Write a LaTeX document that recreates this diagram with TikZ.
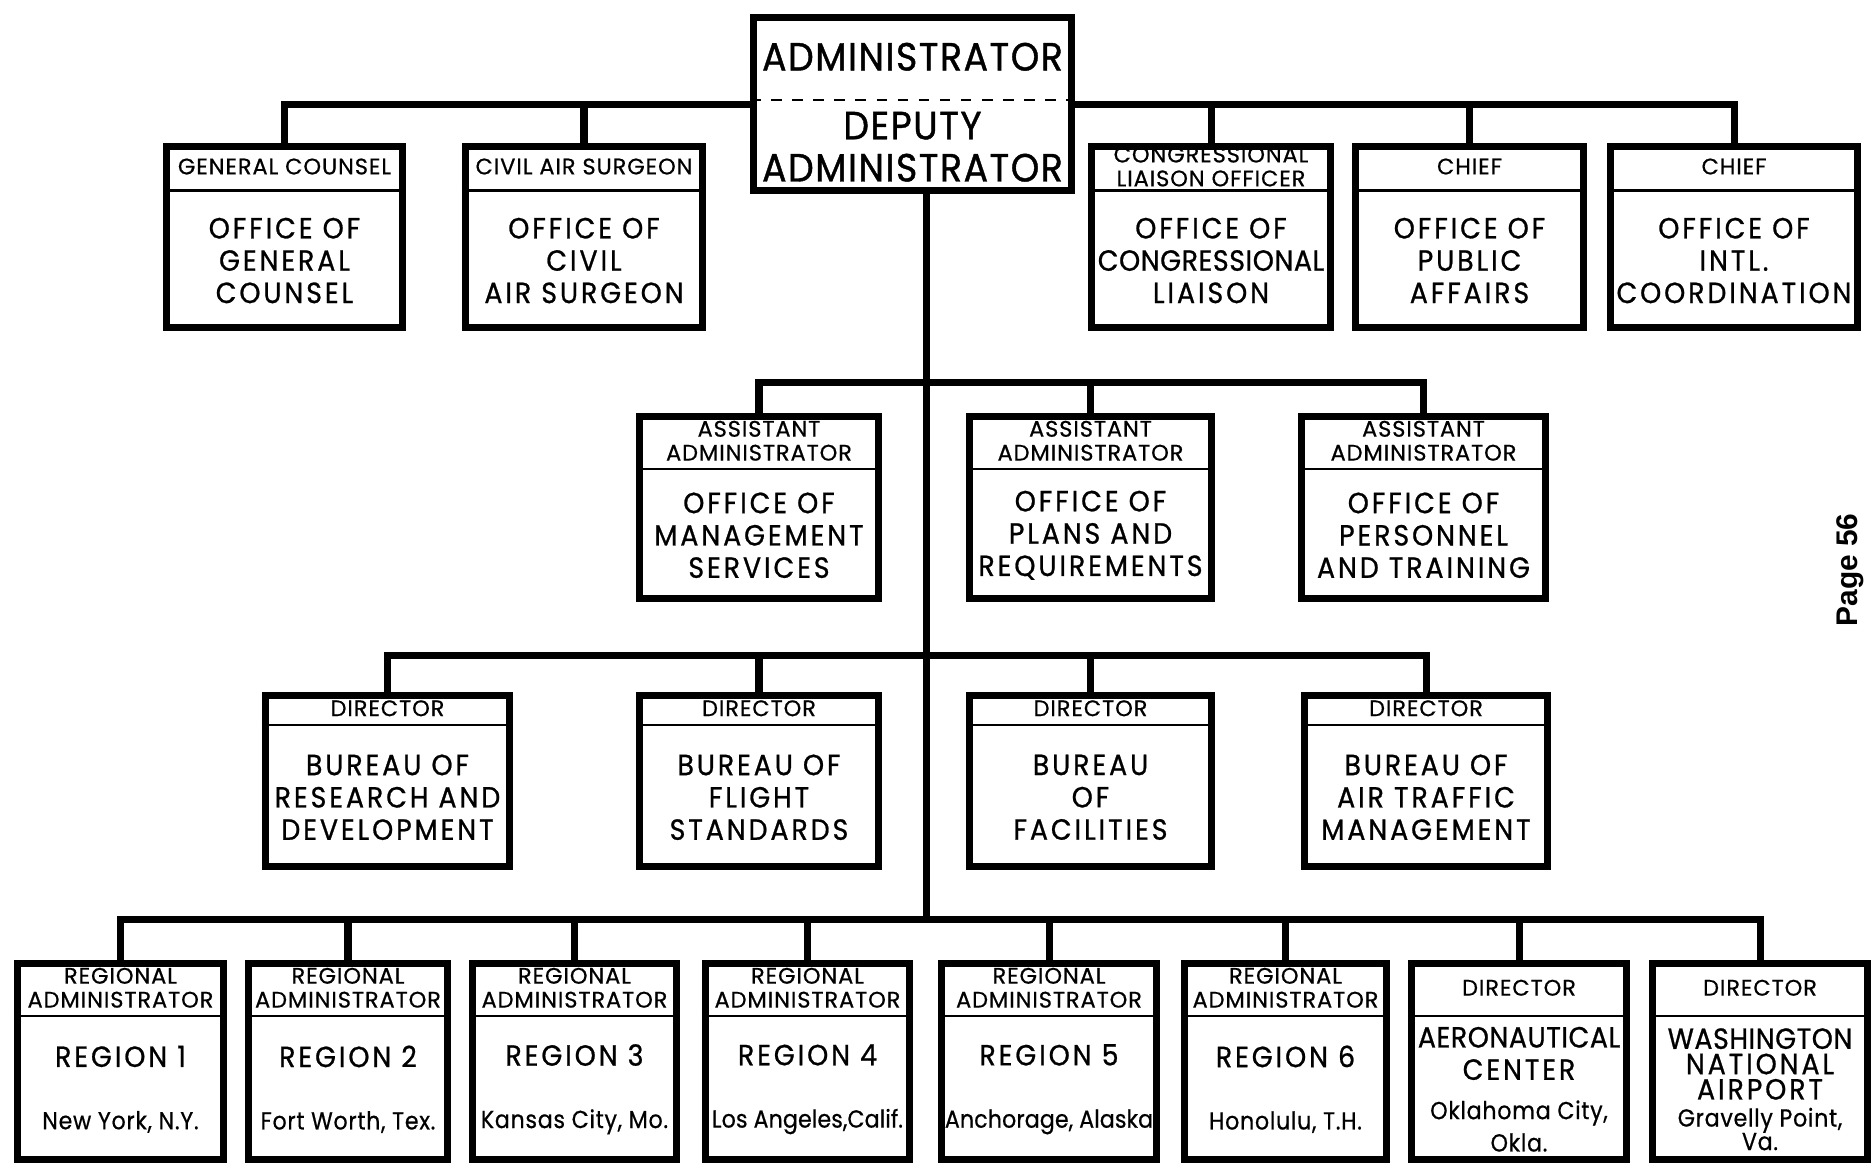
\documentclass[tikz,border=0pt]{standalone}
\usepackage{fontspec}
\usepackage{tikz}
\usetikzlibrary{positioning,calc,backgrounds}

\newfontfamily\chartfont[FakeStretch=0.92, LetterSpace=10, FakeBold=0.8]{Poppins}
\newfontfamily\headfamily[LetterSpace=4, FakeBold=0.6]{Poppins}
\newfontfamily\cityfamily[FakeStretch=0.9, LetterSpace=3, FakeBold=0.6]{Poppins}
\newfontfamily\topfamily[FakeStretch=0.92, LetterSpace=4, FakeBold=1]{Poppins}
\newfontfamily\labelfont{Liberation Sans}
\newcommand{\headfont}{\headfamily\fontsize{6.4}{6.8}\selectfont}
\newcommand{\bodyfont}{\chartfont\fontsize{8.3}{9.2}\selectfont}
\newcommand{\topfont}{\topfamily\fontsize{11.2}{12}\selectfont}
\newcommand{\cityfont}{\cityfamily\fontsize{7}{7.8}\selectfont}
\newcommand{\snug}[1]{{\addfontfeature{LetterSpace=2}#1}}
\newcommand{\squeeze}[1]{{\addfontfeature{LetterSpace=0.5}#1}}

\tikzset{
  unitbox/.style={draw, line width=2pt, fill=white, inner sep=0pt, anchor=north},
  headline/.style={line width=0.6pt},
  headtext/.style={font=\headfont, align=center, inner sep=0pt},
  bodytext/.style={font=\bodyfont, align=center, inner sep=0pt},
  toptext/.style={font=\topfont, align=center, inner sep=0pt},
  link/.style={line width=2pt, line cap=rect},
}

% name, centre x, top y, width, height, header depth, header, body
\newcommand{\orgunit}[8]{%
  \node[unitbox, minimum width=#4cm, minimum height=#5cm] (#1) at (#2,#3) {};
  \coordinate (#1-l) at ($(#1.north west)+(0,-#6)$);
  \coordinate (#1-r) at ($(#1.north east)+(0,-#6)$);
  \coordinate (#1-m) at ($(#1-l)!0.5!(#1-r)$);
  \draw[headline] (#1-l) -- (#1-r);
  \node[headtext] (#1-h) at ($(#1.north)!0.5!(#1-m)$) {#7};
  \node[bodytext] (#1-b) at ($(#1-m)!0.5!(#1.south)$) {#8};
}

\begin{document}
\begin{tikzpicture}
  \useasboundingbox (0,0) rectangle (18.71,-11.62);

  % administrator
  \node[unitbox, minimum width=3.18cm, minimum height=1.73cm] (admin) at (9.125,-0.135) {};
  \coordinate (admin-l) at ($(admin.north west)+(0,-0.865)$);
  \coordinate (admin-r) at ($(admin.north east)+(0,-0.865)$);
  \coordinate (admin-m) at ($(admin-l)!0.5!(admin-r)$);
  \draw[headline, dashed] (admin-l) -- (admin-r);
  \node[toptext] (admin-h) at ($(admin.north)!0.5!(admin-m)$) {ADMINISTRATOR};
  \node[toptext] (admin-b) at ($(admin-m)!0.5!(admin.south)$) {DEPUTY\\ADMINISTRATOR};

  % staff offices
  \orgunit{gc}{2.845}{-1.425}{2.36}{1.81}{0.48}{GENERAL COUNSEL}{OFFICE OF\\GENERAL\\COUNSEL}
  \orgunit{cas}{5.84}{-1.425}{2.37}{1.81}{0.48}{CIVIL AIR SURGEON}{OFFICE OF\\CIVIL\\AIR SURGEON}
  \orgunit{cong}{12.11}{-1.425}{2.39}{1.81}{0.48}{CONGRESSIONAL\\LIAISON OFFICER}{OFFICE OF\\\snug{CONGRESSIONAL}\\LIAISON}
  \orgunit{pub}{14.695}{-1.425}{2.28}{1.81}{0.48}{CHIEF}{OFFICE OF\\PUBLIC\\AFFAIRS}
  \orgunit{intl}{17.34}{-1.425}{2.47}{1.81}{0.48}{CHIEF}{OFFICE OF\\INTL.\\COORDINATION}

  % assistant administrators
  \orgunit{mgmt}{7.59}{-4.125}{2.39}{1.82}{0.565}{ASSISTANT\\ADMINISTRATOR}{OFFICE OF\\MANAGEMENT\\SERVICES}
  \orgunit{plans}{10.905}{-4.125}{2.42}{1.82}{0.565}{ASSISTANT\\ADMINISTRATOR}{OFFICE OF\\PLANS AND\\REQUIREMENTS}
  \orgunit{pers}{14.235}{-4.125}{2.44}{1.82}{0.565}{ASSISTANT\\ADMINISTRATOR}{OFFICE OF\\PERSONNEL\\AND TRAINING}

  % bureaus
  \orgunit{rd}{3.875}{-6.915}{2.44}{1.71}{0.335}{DIRECTOR}{BUREAU OF\\RESEARCH AND\\DEVELOPMENT}
  \orgunit{fs}{7.59}{-6.915}{2.39}{1.71}{0.335}{DIRECTOR}{BUREAU OF\\FLIGHT\\STANDARDS}
  \orgunit{fac}{10.905}{-6.915}{2.42}{1.71}{0.335}{DIRECTOR}{BUREAU\\OF\\FACILITIES}
  \orgunit{atm}{14.26}{-6.915}{2.43}{1.71}{0.335}{DIRECTOR}{BUREAU OF\\AIR TRAFFIC\\MANAGEMENT}

  % regions and field units
  \orgunit{r1}{1.205}{-9.595}{2.06}{1.96}{0.565}{REGIONAL\\ADMINISTRATOR}{REGION 1\\[0.3cm]\cityfont New York, N.Y.}
  \orgunit{r2}{3.48}{-9.595}{1.99}{1.96}{0.565}{REGIONAL\\ADMINISTRATOR}{REGION 2\\[0.3cm]\cityfont Fort Worth, Tex.}
  \orgunit{r3}{5.745}{-9.595}{2.04}{1.96}{0.565}{REGIONAL\\ADMINISTRATOR}{REGION 3\\[0.3cm]\cityfont Kansas City, Mo.}
  \orgunit{r4}{8.075}{-9.595}{2.04}{1.96}{0.565}{REGIONAL\\ADMINISTRATOR}{REGION 4\\[0.3cm]\cityfont\squeeze{Los Angeles,Calif.}}
  \orgunit{r5}{10.49}{-9.595}{2.15}{1.96}{0.565}{REGIONAL\\ADMINISTRATOR}{REGION 5\\[0.3cm]\cityfont\squeeze{Anchorage, Alaska}}
  \orgunit{r6}{12.855}{-9.595}{2.02}{1.96}{0.565}{REGIONAL\\ADMINISTRATOR}{REGION 6\\[0.3cm]\cityfont Honolulu, T.H.}
  \orgunit{aero}{15.19}{-9.595}{2.15}{1.96}{0.565}{DIRECTOR}{\snug{AERONAUTICAL}\\CENTER\\[2pt]\cityfont Oklahoma City,\\\cityfont Okla.}
  \orgunit{wash}{17.60}{-9.595}{2.15}{1.96}{0.565}{DIRECTOR}{\snug{WASHINGTON}\\[-2pt]NATIONAL\\[-2pt]AIRPORT\\[-1.5pt]\cityfont Gravelly Point,\\[-2.5pt]\cityfont Va.}

  \node[rotate=90, font={\labelfont\bfseries\fontsize{8.5}{10}\selectfont}] (pagenum) at (18.50,-5.70) {Page 56};

  % connectors
  \begin{scope}[on background layer]
    \coordinate (trunk) at ([xshift=0.135cm]admin.south);
    \coordinate (topbar) at (0,-1.04);
    \coordinate (asstbar) at (0,-3.82);
    \coordinate (dirbar) at (0,-6.55);
    \coordinate (regbar) at (0,-9.19);
    \draw[link] (gc.north |- topbar) -- (intl.north |- topbar);
    \draw[link] (trunk) -- (trunk |- regbar);
    \draw[link] (mgmt.north |- asstbar) -- (pers.north |- asstbar);
    \draw[link] (rd.north |- dirbar) -- (atm.north |- dirbar);
    \draw[link] (r1.north |- regbar) -- (wash.north |- regbar);
    \foreach \u/\row in {gc/topbar, cas/topbar, cong/topbar, pub/topbar, intl/topbar,
        mgmt/asstbar, plans/asstbar, pers/asstbar,
        rd/dirbar, fs/dirbar, fac/dirbar, atm/dirbar,
        r1/regbar, r2/regbar, r3/regbar, r4/regbar, r5/regbar, r6/regbar, aero/regbar, wash/regbar}
      \draw[link] (\u.north |- \row) -- (\u.north);
  \end{scope}
\end{tikzpicture}
\end{document}
